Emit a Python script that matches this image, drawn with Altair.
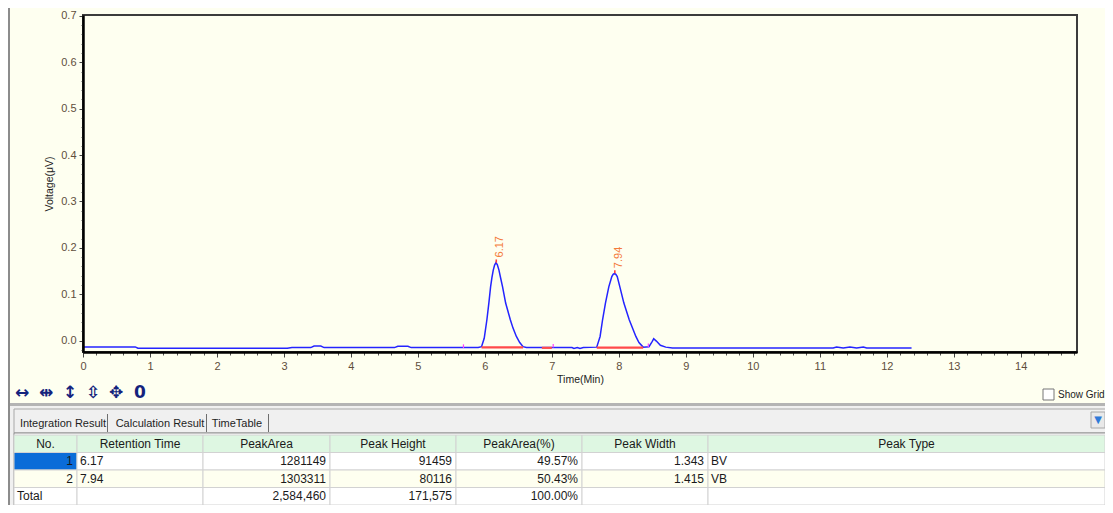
import altair as alt
import pandas as pd

# ---------------- chromatogram data ----------------
TIME = [0.00, 0.78, 0.82, 3.05, 3.12, 3.40, 3.45, 3.55, 3.60, 4.65, 4.70, 4.85, 4.90,
        5.90, 5.95, 5.99, 6.03, 6.06, 6.085, 6.105, 6.125, 6.145, 6.165, 6.185, 6.21,
        6.235, 6.264, 6.31, 6.38, 6.42, 6.47, 6.52, 6.57, 6.62,
        7.30, 7.33, 7.38, 7.42, 7.47, 7.67, 7.72, 7.757, 7.80, 7.85, 7.895, 7.915,
        7.935, 7.955, 7.976, 8.015, 8.075, 8.155, 8.254, 8.30, 8.363,
        8.45, 8.49, 8.52, 8.56, 8.62, 8.70, 8.80,
        11.20, 11.25, 11.35, 11.45, 11.55, 11.65, 11.70, 12.37]
VOLT = [-0.0135, -0.0135, -0.0165, -0.0165, -0.0150, -0.0150, -0.0115, -0.0115, -0.0150,
        -0.0150, -0.0120, -0.0120, -0.0150,
        -0.0150, -0.0130, 0.005, 0.045, 0.082, 0.116, 0.136, 0.152, 0.163, 0.168, 0.164, 0.152,
        0.135, 0.116, 0.081, 0.045, 0.027, 0.009, -0.004, -0.013, -0.015,
        -0.015, -0.017, -0.015, -0.017, -0.015, -0.014, 0.009, 0.045, 0.081, 0.116, 0.138, 0.143,
        0.145, 0.143, 0.138, 0.116, 0.081, 0.045, 0.009, -0.004, -0.014,
        -0.013, -0.004, 0.004, -0.001, -0.010, -0.014, -0.016,
        -0.016, -0.014, -0.016, -0.014, -0.016, -0.014, -0.016, -0.016]

PEAK_RT = [6.17, 7.94]
PEAK_LABEL = ["6.17", "7.94"]
PEAK_APEX = [0.168, 0.145]
PEAK_MARK_TOP = [0.175, 0.152]

INTEG_START = [5.95, 6.85, 7.67]
INTEG_END = [6.57, 7.00, 8.363]
INTEG_LEVEL = [-0.0145, -0.0155, -0.0150]

EVENT_T = [5.68, 7.02, 8.44]
EVENT_LOW = [-0.016, -0.015, -0.014]
EVENT_HIGH = [-0.008, -0.007, -0.006]

X_TICKS = list(range(15))
X_MINOR = [round(i * 0.2, 1) for i in range(75)]
Y_TICKS = [0.0, 0.1, 0.2, 0.3, 0.4, 0.5, 0.6, 0.7]
Y_MINOR = [round(-0.02 + i * 0.02, 2) for i in range(37)]
X_DOMAIN = [0, 14.84]
Y_DOMAIN = [-0.0245, 0.702]

# ---------------- result table ----------------
TABLE_HEADERS = ["No.", "Retention Time", "PeakArea", "Peak Height", "PeakArea(%)", "Peak Width", "Peak Type"]
NO = ["1", "2", "Total"]
RET_TIME = ["6.17", "7.94", ""]
PEAK_AREA = ["1281149", "1303311", "2,584,460"]
PEAK_HEIGHT = ["91459", "80116", "171,575"]
PEAK_AREA_PCT = ["49.57%", "50.43%", "100.00%"]
PEAK_WIDTH = ["1.343", "1.415", ""]
PEAK_TYPE = ["BV", "VB", ""]

TABS = ["Integration Result", "Calculation Result", "TimeTable"]
TOOL_ICONS = ["↔", "⇹", "↕", "⇳", "✥", "0"]

# ---------------- layout / style constants ----------------
W, H = 1097, 497
PLOT_X_RANGE = [75, 1069]
PLOT_Y_RANGE = [344, 7]
TABLE_X_RANGE = [6, 1097]
TABLE_Y_RANGE = [427, 497]
COL_W = [63, 126, 127, 126, 126, 126, 397]
COL_ALIGN = ["right", "left", "right", "right", "right", "right", "left"]
PANEL_BG = "#fefff0"
FONT = "Liberation Sans"
TRACE_BLUE = "#2424ff"

xs = alt.Scale(domain=X_DOMAIN, range=PLOT_X_RANGE, nice=False, zero=False)
ys = alt.Scale(domain=Y_DOMAIN, range=PLOT_Y_RANGE, nice=False, zero=False)

lab_color = "#5e4e3c"

# plot frame (minor tick axes attached)
frame_df = pd.DataFrame({"x0": [X_DOMAIN[0]], "x1": [X_DOMAIN[1]],
                         "y0": [Y_DOMAIN[0]], "y1": [Y_DOMAIN[1]]})
frame = alt.Chart(frame_df).mark_rect(fill=PANEL_BG, stroke="#3c3c3c", strokeWidth=2).encode(
    x=alt.X("x0:Q", scale=xs, axis=alt.Axis(orient="bottom", offset=-153, values=X_MINOR,
                                             labels=False, domain=False, tickSize=3,
                                             tickColor="#555", title=None, grid=False, zindex=1)),
    x2="x1:Q",
    y=alt.Y("y0:Q", scale=ys, axis=alt.Axis(orient="left", offset=-75, values=Y_MINOR,
                                             labels=False, domain=False, tickSize=2,
                                             tickColor="#666", title=None, grid=False, zindex=1)),
    y2="y1:Q",
)

trace_df = pd.DataFrame({"t": TIME, "v": VOLT})
trace = alt.Chart(trace_df).mark_line(color=TRACE_BLUE, strokeWidth=1.5).encode(
    x=alt.X("t:Q", scale=xs, axis=alt.Axis(
        orient="bottom", offset=-153, values=X_TICKS, format="d", tickSize=5, tickColor="#444",
        labelFontSize=11, labelFont=FONT, labelColor=lab_color, labelPadding=3, labelFlush=False,
        labelOverlap=False,
        domainColor="#000", domainWidth=2.5, grid=False, zindex=1,
        title="Time(Min)", titleFont=FONT, titleFontSize=10.5, titleFontWeight="normal",
        titleColor="#222", titlePadding=3)),
    y=alt.Y("v:Q", scale=ys, axis=alt.Axis(
        orient="left", offset=-75, values=Y_TICKS, format=".1f", tickSize=4, tickColor="#444",
        labelFontSize=11, labelFont=FONT, labelColor=lab_color, labelPadding=3, labelFlush=False,
        labelOverlap=False,
        domainColor="#000", domainWidth=2.5, grid=False, zindex=1,
        title="Voltage(μV)", titleFont=FONT, titleFontSize=10.5, titleFontWeight="normal",
        titleColor="#222", titlePadding=6)),
    order="t:Q",
)

integ_df = pd.DataFrame({"s": INTEG_START, "e": INTEG_END, "lv": INTEG_LEVEL})
integ = alt.Chart(integ_df).mark_rule(color="#ff4a4a", strokeWidth=2.2).encode(
    x=alt.X("s:Q", scale=xs, axis=None), x2="e:Q",
    y=alt.Y("lv:Q", scale=ys, axis=None), y2="lv:Q",
)

event_df = pd.DataFrame({"t": EVENT_T, "lo": EVENT_LOW, "hi": EVENT_HIGH})
events = alt.Chart(event_df).mark_rule(color="#ff40ff", strokeWidth=1.2).encode(
    x=alt.X("t:Q", scale=xs, axis=None),
    y=alt.Y("lo:Q", scale=ys, axis=None), y2="hi:Q",
)

peak_df = pd.DataFrame({"rt": PEAK_RT, "apex": PEAK_APEX, "top": PEAK_MARK_TOP, "label": PEAK_LABEL})
apex = alt.Chart(peak_df).mark_rule(color="#ff3c3c", strokeWidth=1.6).encode(
    x=alt.X("rt:Q", scale=xs, axis=None),
    y=alt.Y("apex:Q", scale=ys, axis=None), y2="top:Q",
)
labels = alt.Chart(peak_df).mark_text(angle=270, align="left", baseline="middle", dx=2, dy=4,
                                      color="#f47c3c", fontSize=11, font=FONT).encode(
    x=alt.X("rt:Q", scale=xs, axis=None),
    y=alt.Y("top:Q", scale=ys, axis=None),
    text="label:N",
)

chrom = alt.layer(frame, trace, integ, events, apex, labels).resolve_axis(x="independent", y="independent")

# ---------------- table build ----------------
edges = [0]
for w in COL_W:
    edges.append(edges[-1] + w)

body = [NO, RET_TIME, PEAK_AREA, PEAK_HEIGHT, PEAK_AREA_PCT, PEAK_WIDTH, PEAK_TYPE]
cells, texts = [], []
for c in range(len(TABLE_HEADERS)):
    cells.append({"x0": edges[c], "x1": edges[c + 1], "y0": 0, "y1": 1, "kind": "header"})
    texts.append({"text": TABLE_HEADERS[c], "tx": (edges[c] + edges[c + 1]) / 2, "ty": 0.5, "al": "center"})
    for r in range(len(NO)):
        if r == 0 and c == 0:
            kind = "selected"
        elif r == 1:
            kind = "alt"
        else:
            kind = "plain"
        cells.append({"x0": edges[c], "x1": edges[c + 1], "y0": r + 1, "y1": r + 2, "kind": kind})
        val = body[c][r]
        al = COL_ALIGN[c]
        if c == 0 and r == len(NO) - 1:
            al = "left"
        tx = edges[c] + 3 if al == "left" else edges[c + 1] - 4
        texts.append({"text": val, "tx": tx, "ty": r + 1.5, "al": al})

cell_df = pd.DataFrame(cells)
text_df = pd.DataFrame(texts)

txs = alt.Scale(domain=[0, edges[-1]], range=TABLE_X_RANGE, nice=False, zero=False)
tys = alt.Scale(domain=[0, len(NO) + 1], range=TABLE_Y_RANGE, nice=False, zero=False)

cell_layer = alt.Chart(cell_df).mark_rect(stroke="#d2d2d2", strokeWidth=1).encode(
    x=alt.X("x0:Q", scale=txs, axis=None), x2="x1:Q",
    y=alt.Y("y0:Q", scale=tys, axis=None), y2="y1:Q",
    fill=alt.Fill("kind:N", scale=alt.Scale(domain=["header", "plain", "alt", "selected"],
                                             range=["#def7e2", "#ffffff", "#fefff0", "#0a6cd8"]),
                  legend=None),
)


def text_layer(al):
    return alt.Chart(text_df).transform_filter(alt.datum.al == al).mark_text(
        align=al, baseline="middle", fontSize=12, font=FONT, color="#1a1a1a").encode(
        x=alt.X("tx:Q", scale=txs, axis=None),
        y=alt.Y("ty:Q", scale=tys, axis=None),
        text="text:N",
    )


table = alt.layer(cell_layer, text_layer("left"), text_layer("center"), text_layer("right"))

# ---------------- window chrome ----------------
one = pd.DataFrame({"k": [0]})


def box(x, x2, y, y2, **kw):
    return alt.Chart(one).mark_rect(**kw).encode(
        x=alt.value(x), x2=alt.value(x2), y=alt.value(y), y2=alt.value(y2))


def label(txt, x, y, **kw):
    return alt.Chart(one).mark_text(**kw).encode(x=alt.value(x), y=alt.value(y), text=alt.value(txt))


chrome_back = [
    box(0, W, 398, H, fill="#f0f0f0"),
    box(0, W, 395, 398, fill="#b4b4b4"),
    box(0, 2, 0, H, fill="#8c8c8c"),
    box(6, 1099, 401, 425, fill="#f0f0f0", stroke="#a8a8a8", strokeWidth=1),
    box(6, 1099, 425, H, fill="#ffffff", stroke="#8c8c8c", strokeWidth=1),
]

tab_x = [55, 152, 229]
sep_x = [99, 198, 260]
chrome_front = []
for t, x in zip(TABS, tab_x):
    chrome_front.append(label(t, x, 416, align="center", baseline="middle", fontSize=11,
                              font=FONT, color="#1e1e1e"))
for x in sep_x:
    chrome_front.append(box(x, x + 1, 406, 424, fill="#6e6e6e"))

icon_x = [14, 38, 62, 85, 108, 132]
for ic, x in zip(TOOL_ICONS, icon_x):
    chrome_front.append(label(ic, x, 385, align="center", baseline="middle", fontSize=17,
                              fontWeight="bold", font="DejaVu Sans", color="#14237d"))

chrome_front += [
    box(1035, 1046, 381, 392, fill="#ffffff", stroke="#767676", strokeWidth=1),
    label("Show Grid", 1050, 387, align="left", baseline="middle", fontSize=10, font=FONT,
          color="#222"),
    box(1083, 1097, 404, 420, fill="#e9e9e9", stroke="#a8a8a8", strokeWidth=1),
    label("▼", 1090, 412, align="center", baseline="middle", fontSize=10, font="DejaVu Sans",
          color="#2f7ad8"),
]

chart = alt.layer(*chrome_back, chrom, table, *chrome_front).resolve_scale(
    x="independent", y="independent"
).properties(
    width=W, height=H, autosize=alt.AutoSizeParams(type="none"), padding=0, background=PANEL_BG
).configure_view(stroke=None)

chart.save("out.html", embed_options={"renderer": "svg", "actions": False})
